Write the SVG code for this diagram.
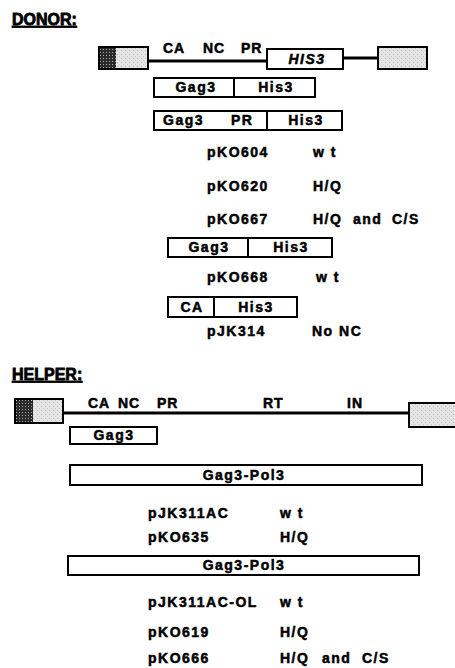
<svg xmlns="http://www.w3.org/2000/svg" width="455" height="668" viewBox="0 0 455 668">
<defs>
<pattern id="dots" width="3" height="3" patternUnits="userSpaceOnUse">
<rect width="3" height="3" fill="#2a2a2a"/>
<rect x="1" y="1" width="1" height="1" fill="#aaa"/>
</pattern>
<pattern id="lite" width="4" height="4" patternUnits="userSpaceOnUse">
<rect width="4" height="4" fill="#e4e4e4"/>
<rect x="1" y="2" width="1" height="1" fill="#bdbdbd"/>
<rect x="3" y="0" width="1" height="1" fill="#cfcfcf"/>
</pattern>
</defs>
<style>
text{font-family:"Liberation Sans",Arial,Helvetica,sans-serif;font-weight:bold;font-size:14px;letter-spacing:1.5px;fill:#000;stroke:#000;stroke-width:0.5px}
.t{font-size:16px;letter-spacing:0px;text-decoration:underline;stroke-width:0.8px}
.c{text-anchor:middle}
.box{fill:#fff;stroke:#000;stroke-width:2}
.div{stroke:#000;stroke-width:2}
.gray{fill:url(#lite);stroke:#000;stroke-width:2}
.dark{fill:url(#dots);stroke:none}
.bb{stroke:#000;stroke-width:3;fill:none}
.lb{font-size:14px;letter-spacing:1px}
</style>
<rect width="455" height="668" fill="#fff"/>

<g id="donor-title"><text class="t" x="12" y="25">DONOR:</text></g>

<g id="connectors">
<line class="bb" x1="148" y1="61" x2="267" y2="61"/>
<line class="bb" x1="343" y1="58" x2="378" y2="58"/>
<line class="bb" x1="63" y1="413" x2="409" y2="413"/>
</g>

<g id="donor-construct">
<rect class="gray" x="99" y="47" width="49" height="22"/>
<rect class="dark" x="100" y="48" width="16" height="20"/>
<rect class="gray" x="378" y="47" width="49" height="22"/>
<text class="lb" x="163" y="53">CA</text>
<text class="lb" x="203" y="53">NC</text>
<text class="lb" x="241" y="53">PR</text>
<rect class="box" x="267" y="49" width="76" height="20"/>
<text class="c" x="307" y="64" font-style="italic">HIS3</text>
</g>

<g id="donor-box1">
<rect class="box" x="154" y="78" width="161" height="19"/>
<line class="div" x1="234" y1="78" x2="234" y2="97"/>
<text class="c" x="196" y="92">Gag3</text>
<text class="c" x="276" y="92">His3</text>
</g>

<g id="donor-box2">
<rect class="box" x="154" y="111" width="188" height="19"/>
<line class="div" x1="267" y1="111" x2="267" y2="130"/>
<text x="163" y="125">Gag3</text>
<text x="231" y="125">PR</text>
<text class="c" x="306" y="125">His3</text>
</g>

<g id="donor-list1">
<text x="207" y="157">pKO604</text><text x="313" y="157">w t</text>
<text x="207" y="191">pKO620</text><text x="313" y="191">H/Q</text>
<text x="207" y="224">pKO667</text><text x="313" y="224">H/Q</text><text x="353" y="224">and</text><text x="392" y="224">C/S</text>
</g>

<g id="donor-box3">
<rect class="box" x="168" y="238" width="164" height="19"/>
<line class="div" x1="248" y1="238" x2="248" y2="257"/>
<text class="c" x="209" y="252">Gag3</text>
<text class="c" x="291" y="252">His3</text>
</g>
<g id="donor-list2"><text x="207" y="282">pKO668</text><text x="316" y="282">w t</text></g>

<g id="donor-box4">
<rect class="box" x="168" y="297" width="129" height="20"/>
<line class="div" x1="214" y1="297" x2="214" y2="317"/>
<text class="c" x="192" y="312">CA</text>
<text class="c" x="256" y="312">His3</text>
</g>
<g id="donor-list3"><text x="207" y="336">pJK314</text><text x="312" y="336">No NC</text></g>

<g id="helper-title"><text class="t" x="12" y="380">HELPER:</text></g>

<g id="helper-construct">
<rect class="gray" x="15" y="399" width="48" height="24"/>
<rect class="dark" x="16" y="400" width="17" height="22"/>
<rect class="gray" x="409" y="403" width="52" height="24"/>
<text class="lb" x="88" y="408">CA</text>
<text class="lb" x="118" y="408">NC</text>
<text class="lb" x="157" y="408">PR</text>
<text class="lb" x="263" y="408">RT</text>
<text class="lb" x="347" y="408">IN</text>
</g>

<g id="helper-gag3">
<rect class="box" x="70" y="427" width="87" height="17"/>
<text class="c" x="114" y="440">Gag3</text>
</g>

<g id="helper-gagpol1">
<rect class="box" x="70" y="465" width="352" height="20"/>
<text class="c" x="244" y="480">Gag3-Pol3</text>
</g>

<g id="helper-list1">
<text x="148" y="518">pJK311AC</text><text x="280" y="518">w t</text>
<text x="148" y="542">pKO635</text><text x="280" y="542">H/Q</text>
</g>

<g id="helper-gagpol2">
<rect class="box" x="68" y="556" width="351" height="19"/>
<text class="c" x="244" y="570">Gag3-Pol3</text>
</g>

<g id="helper-list2">
<text x="148" y="607">pJK311AC-OL</text><text x="280" y="607">w t</text>
<text x="148" y="637">pKO619</text><text x="280" y="637">H/Q</text>
<text x="148" y="663">pKO666</text><text x="280" y="663">H/Q</text><text x="322" y="663">and</text><text x="362" y="663">C/S</text>
</g>
</svg>
